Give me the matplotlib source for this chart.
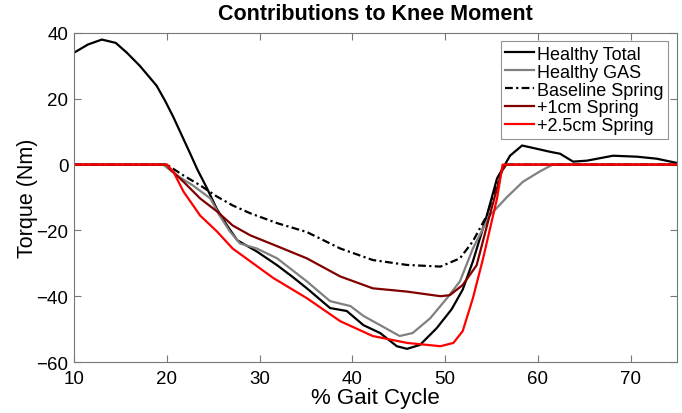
import matplotlib
matplotlib.use("Agg")
import matplotlib.pyplot as plt

plt.rcParams["font.family"] = ["Liberation Sans", "DejaVu Sans"]

# (% gait cycle, Nm)
total_x = [10, 11.5, 13, 14.5, 15.7, 17.1, 18.9, 19.8, 20.7, 21.6, 22.5, 23.3, 24.3, 25.4,
           26.5, 27.6, 29.7, 31.9, 33.5, 35.1, 37.6, 39.4, 41.2, 43, 44.8, 45.9, 47.3, 49.1,
           50.7, 51.9, 53, 54.5, 55.6, 57, 58.3, 59.9, 61.3, 62.4, 63.8, 65.3, 68.1, 70.7,
           72.8, 75]
total_y = [34, 36.5, 38, 37, 34, 30, 24, 19.5, 14.5, 9, 3.5, -1.5, -7, -13.5,
           -18.5, -23, -26.4, -30.6, -34, -37.6, -43.6, -44.5, -48.8, -51.2, -55.2, -56, -54.8, -49.7,
           -44, -38, -29.4, -15.5, -4.2, 2.7, 5.8, 4.8, 3.9, 3.3, 0.9, 1.2, 2.7, 2.4,
           1.8, 0.5]

gas_x = [10, 19.6, 21.1, 22.8, 24.7, 25.7, 26.8, 27.9, 29.7, 31.9, 33.5, 35.1, 37.6, 39.8,
         41.2, 43, 45.1, 46.5, 48.4, 50.2, 51.6, 53, 54.8, 56.7, 58.4, 60.2, 61.6, 75]
gas_y = [0, 0, -3.3, -6.3, -10.3, -15.5, -20.3, -24, -25.5, -28.5, -32, -35.5, -41.5, -43,
         -46, -48.8, -52.1, -51.2, -46.7, -40.6, -35.5, -25.5, -15.5, -9.8, -5.2, -2.1, 0, 0]

base_x = [10, 20, 21.8, 23.6, 25.4, 27.1, 29, 31.9, 35.1, 38.7, 42.2, 45.9, 49.5, 51.6,
          53, 54.5, 55.9, 56.5, 75]
base_y = [0, 0, -3.3, -6.3, -9.7, -12.4, -14.8, -17.8, -20.5, -25.5, -29, -30.5, -31, -28.5,
          -23.3, -15.5, -3.3, 0, 0]

cm1_x = [10, 20, 20.3, 21.8, 23.6, 25.4, 27.1, 29, 31.9, 35.1, 38.7, 42.2, 45.9, 49.5,
         50.5, 51.9, 53.4, 54.8, 56.1, 56.6, 75]
cm1_y = [0, 0, -1.2, -5.2, -10.3, -14.2, -18.5, -21.5, -24.8, -28.5, -34, -37.6, -38.6, -40,
         -39.7, -36.6, -30.6, -15.5, -2.1, 0, 0]

cm25_x = [10, 20, 20.7, 21.8, 23.6, 25.4, 27.1, 29, 31.5, 35.1, 38.7, 42.2, 45.9, 49.5,
          50.9, 51.9, 53, 54.1, 55.6, 56.2, 75]
cm25_y = [0, 0, -2.1, -8.2, -15.5, -20.3, -25.5, -29.4, -34.5, -40.6, -47.6, -52.1, -54.2, -55.2,
          -54.2, -50.6, -40.6, -28.5, -10.3, 0, 0]

x_ticks = [10, 20, 30, 40, 50, 60, 70]
y_ticks = [-60, -40, -20, 0, 20, 40]

fig = plt.figure(figsize=(6.82, 4.14), dpi=100)
ax = fig.add_axes([74 / 682, 1 - 363 / 414, (677 - 74) / 682, (363 - 34) / 414])

lw = 1.6
ax.plot(total_x, total_y, color="black", lw=lw, label="Healthy Total")
ax.plot(gas_x, gas_y, color="#808080", lw=lw, label="Healthy GAS")
ax.plot(base_x, base_y, color="black", lw=lw, ls=(0, (3.5, 1.5, 1, 1.5)), label="Baseline Spring")
ax.plot(cm1_x, cm1_y, color="#800000", lw=lw, label="+1cm Spring")
ax.plot(cm25_x, cm25_y, color="#ff0000", lw=lw, label="+2.5cm Spring")

ax.set_xlim(10, 75)
ax.set_ylim(-60, 40)
ax.set_xticks(x_ticks)
ax.set_yticks(y_ticks)
ax.tick_params(direction="in", top=True, right=True, length=5, width=0.8,
               color="#777777", labelsize=13.5)
ax.tick_params(axis="x", pad=6)
ax.tick_params(axis="y", pad=4)
for s in ax.spines.values():
    s.set_edgecolor("#777777")
    s.set_linewidth(0.8)

ax.set_xlabel("% Gait Cycle", fontsize=16, labelpad=0)
ax.set_ylabel("Torque (Nm)", fontsize=15.5, labelpad=-1)
ax.set_title("Contributions to Knee Moment", fontsize=15.5, fontweight="bold", pad=10)

leg = ax.legend(loc="upper right", bbox_to_anchor=(0.985, 0.975), fontsize=13,
                handlelength=1.6, handletextpad=0.15, labelspacing=0.05,
                borderpad=0.25, borderaxespad=0, frameon=True, fancybox=False)
leg.get_frame().set_edgecolor("#777777")
leg.get_frame().set_linewidth(0.8)

fig.savefig("out.png", dpi=100)
